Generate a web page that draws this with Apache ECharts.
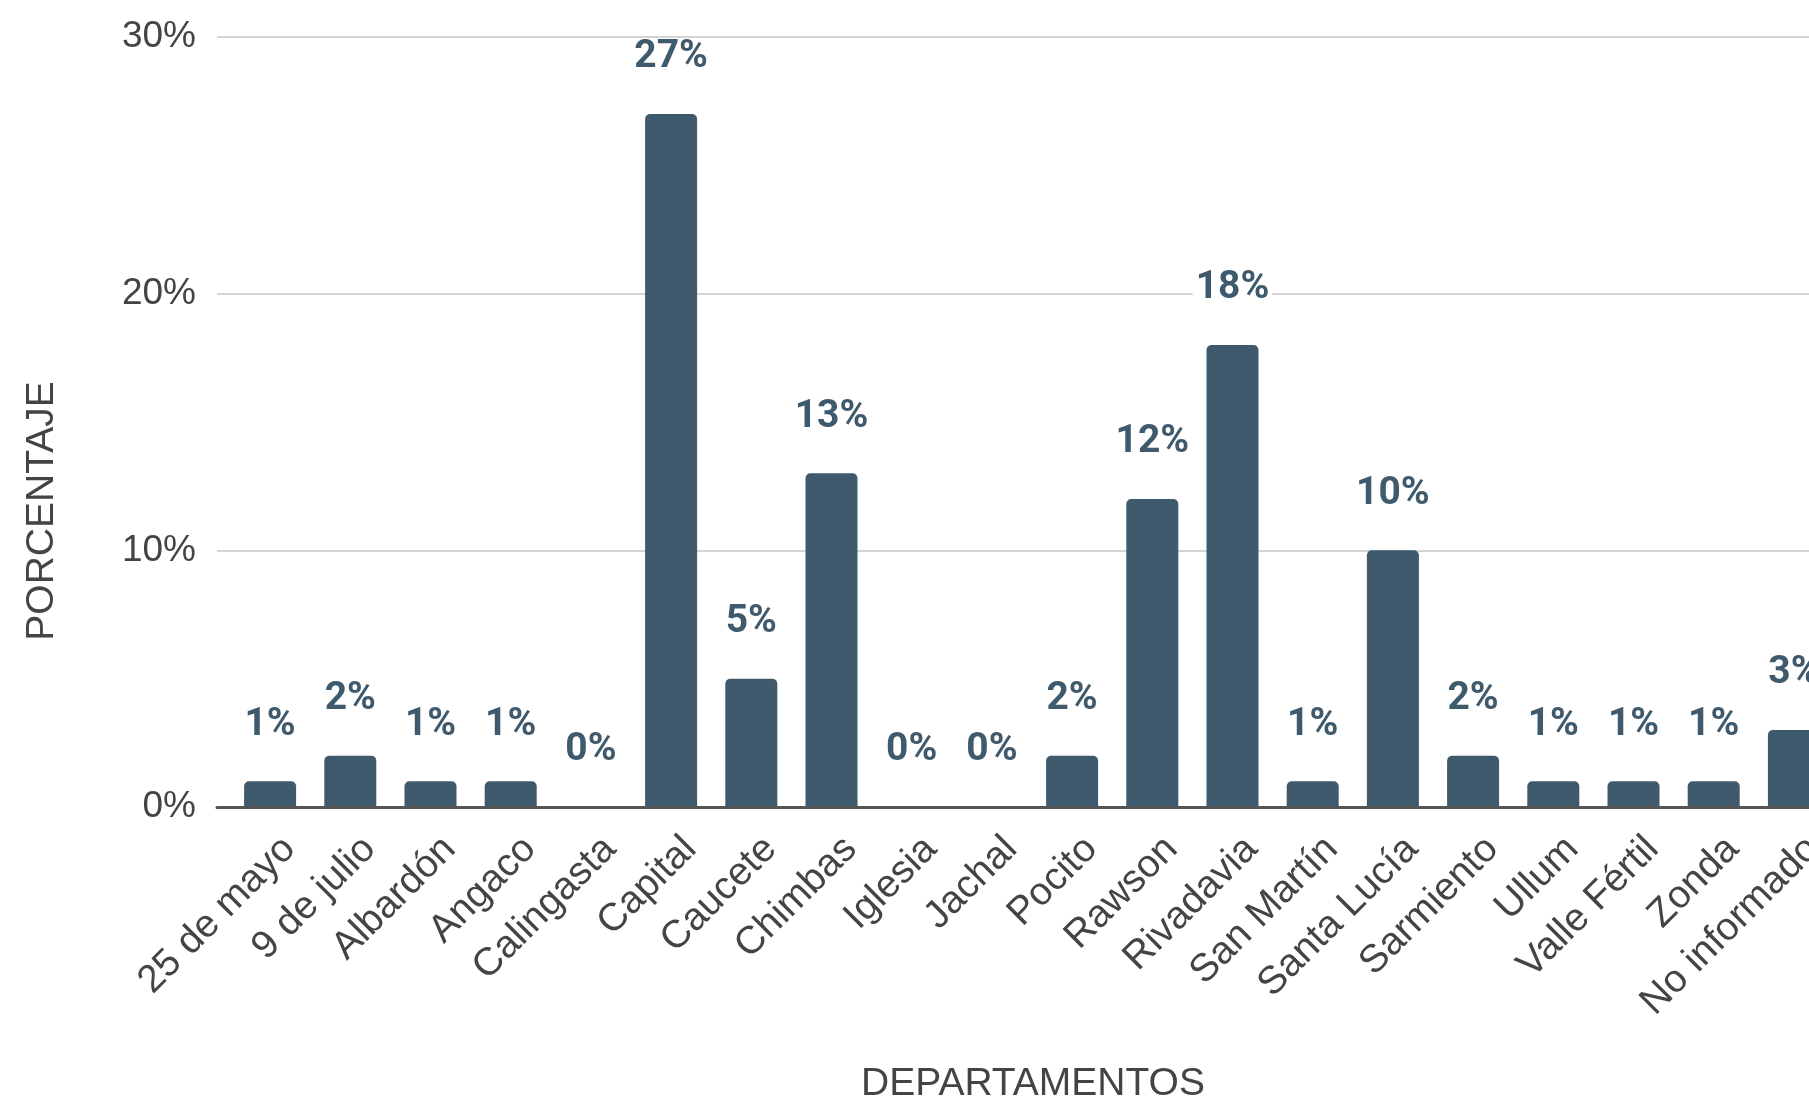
<!DOCTYPE html>
<html>
<head>
<meta charset="utf-8">
<script src="https://cdn.jsdelivr.net/npm/echarts@6/dist/echarts.min.js"></script>
<style>
html, body { margin: 0; padding: 0; background: #fff; }
#main { width: 1809px; height: 1099px; }
</style>
</head>
<body>
<div id="main"></div>
<script>
// datos del grafico
var departamentos = ['25 de mayo', '9 de julio', 'Albardón', 'Angaco', 'Calingasta', 'Capital', 'Caucete', 'Chimbas', 'Iglesia', 'Jachal', 'Pocito', 'Rawson', 'Rivadavia', 'San Martín', 'Santa Lucía', 'Sarmiento', 'Ullum', 'Valle Fértil', 'Zonda', 'No informado'];
var porcentajes = [1, 2, 1, 1, 0, 27, 5, 13, 0, 0, 2, 12, 18, 1, 10, 2, 1, 1, 1, 3];
var yMin = 0, yMax = 30, yPaso = 10;

var colorBarra = '#3f5a6d';
var top0 = 37, bottom0 = 292;

var myChart = echarts.init(document.getElementById('main'));
var option = {
    backgroundColor: '#fff',
    animation: false,
    grid: [
        // rejilla de fondo (lineas y eje 0%)
        {left: 217, width: 1650, top: top0, bottom: bottom0, outerBoundsMode: 'none'},
        // barras, la ultima queda cortada por el borde
        {left: 230, width: 1604, top: top0, bottom: bottom0, outerBoundsMode: 'none'}
    ],
    xAxis: [
        {
            gridIndex: 0,
            type: 'category',
            data: [''],
            axisLine: {show: true, lineStyle: {color: '#555', width: 3}},
            axisTick: {show: false},
            axisLabel: {show: false},
            z: 5
        },
        {
            gridIndex: 1,
            type: 'category',
            data: departamentos,
            axisLine: {show: false},
            axisTick: {show: false},
            axisLabel: {
                interval: 0,
                rotate: 45,
                margin: 17,
                verticalAlign: 'top',
                lineHeight: 54,
                color: '#444',
                fontFamily: 'Liberation Sans, Arial',
                fontSize: 39
            }
        }
    ],
    yAxis: [
        {
            gridIndex: 0,
            type: 'value',
            min: yMin,
            max: yMax,
            interval: yPaso,
            axisLine: {show: false},
            axisTick: {show: false},
            splitLine: {lineStyle: {color: '#d4d4d4', width: 2}},
            axisLabel: {
                formatter: '{value}%',
                margin: 21,
                color: '#444',
                fontFamily: 'Liberation Sans, Arial',
                fontSize: 37
            }
        },
        {
            gridIndex: 1,
            type: 'value',
            min: yMin,
            max: yMax,
            interval: yPaso,
            show: false,
            splitLine: {show: false}
        }
    ],
    graphic: [
        {
            type: 'text',
            x: 42,
            y: 511,
            rotation: Math.PI / 2,
            style: {
                text: 'PORCENTAJE',
                fill: '#444',
                font: '39px "Liberation Sans", Arial',
                textAlign: 'center',
                textVerticalAlign: 'middle'
            }
        },
        {
            type: 'text',
            x: 1033,
            y: 1084,
            style: {
                text: 'DEPARTAMENTOS',
                fill: '#444',
                font: '39px "Liberation Sans", Arial',
                textAlign: 'center',
                textVerticalAlign: 'middle'
            }
        }
    ],
    series: [
        {
            type: 'bar',
            xAxisIndex: 1,
            yAxisIndex: 1,
            data: porcentajes,
            barWidth: 52,
            itemStyle: {color: colorBarra, borderRadius: [5, 5, 0, 0]},
            label: {
                show: true,
                position: 'top',
                distance: 37,
                formatter: '{c}%',
                color: colorBarra,
                backgroundColor: '#fff',
                padding: [0, 3],
                fontFamily: 'Roboto',
                fontWeight: 'bold',
                fontSize: 39
            }
        }
    ]
};
myChart.setOption(option);
</script>
</body>
</html>
